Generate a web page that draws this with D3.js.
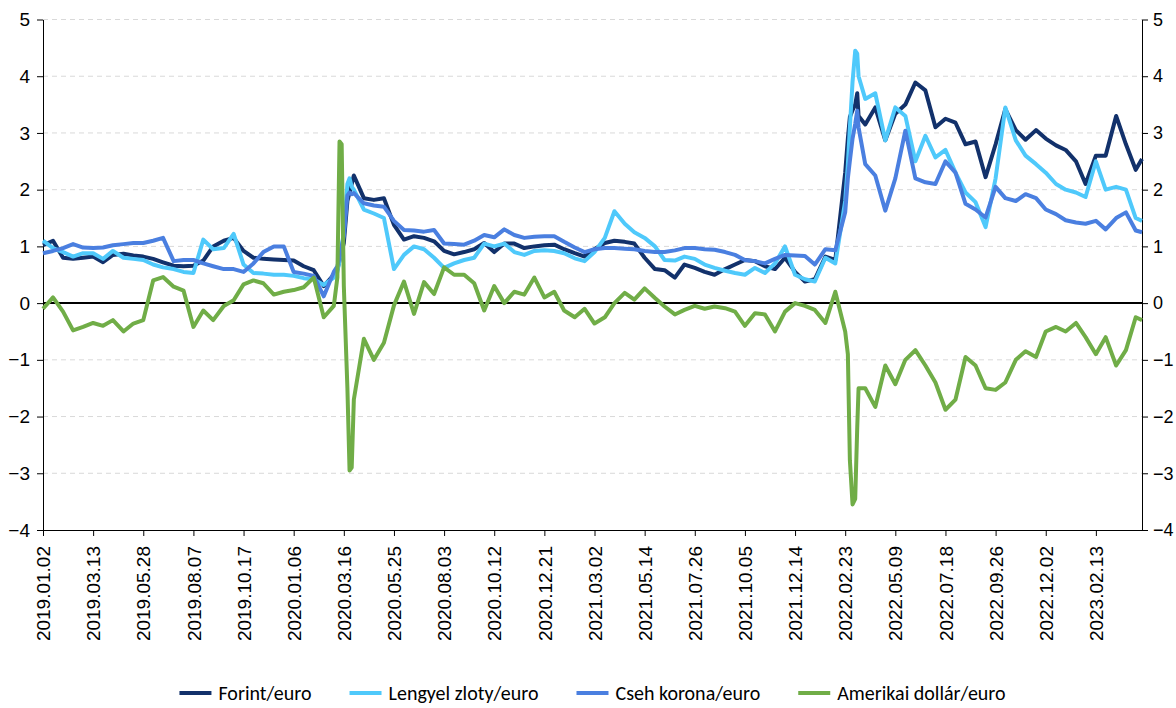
<!DOCTYPE html>
<html>
<head>
<meta charset="utf-8">
<script src="https://cdn.jsdelivr.net/npm/d3@7"></script>
<style>
  body { margin: 0; background: #fff; }
  svg { display: block; font-family: Carlito, Calibri, Lato, sans-serif; }
</style>
</head>
<body>
<div id="chart"></div>
<script>
// kategóriák: kereskedési napok mintái
const dates = [
  '2019-01-02','2019-01-16','2019-01-30','2019-02-13','2019-02-27','2019-03-13','2019-03-28','2019-04-12','2019-04-28','2019-05-13',
  '2019-05-28','2019-06-11','2019-06-25','2019-07-10','2019-07-24','2019-08-07','2019-08-21','2019-09-04','2019-09-19','2019-10-03',
  '2019-10-17','2019-11-02','2019-11-18','2019-12-05','2019-12-21','2020-01-06','2020-01-20','2020-02-03','2020-02-17','2020-03-02',
  '2020-03-07','2020-03-10','2020-03-13','2020-03-16','2020-03-21','2020-03-24','2020-03-27','2020-03-30','2020-04-13','2020-04-27',
  '2020-05-11','2020-05-25','2020-06-08','2020-06-22','2020-07-06','2020-07-20','2020-08-03','2020-08-17','2020-08-31','2020-09-14',
  '2020-09-28','2020-10-12','2020-10-26','2020-11-09','2020-11-23','2020-12-07','2020-12-21','2021-01-04','2021-01-18','2021-02-02',
  '2021-02-16','2021-03-02','2021-03-17','2021-03-31','2021-04-15','2021-04-29','2021-05-14','2021-05-29','2021-06-12','2021-06-27',
  '2021-07-11','2021-07-26','2021-08-09','2021-08-23','2021-09-07','2021-09-21','2021-10-05','2021-10-19','2021-11-02','2021-11-16',
  '2021-11-30','2021-12-14','2021-12-28','2022-01-11','2022-01-26','2022-02-09','2022-02-23','2022-02-27','2022-03-02','2022-03-06',
  '2022-03-10','2022-03-13','2022-03-15','2022-03-25','2022-04-09','2022-04-24','2022-05-09','2022-05-23','2022-06-06','2022-06-20',
  '2022-07-04','2022-07-18','2022-08-01','2022-08-15','2022-08-29','2022-09-12','2022-09-26','2022-10-09','2022-10-23','2022-11-05',
  '2022-11-19','2022-12-02','2022-12-17','2022-12-31','2023-01-15','2023-01-29','2023-02-13','2023-02-27','2023-03-14','2023-03-28',
  '2023-04-11','2023-04-20'
];

const forint = [
  1.02,1.10,0.80,0.78,0.80,0.82,0.72,0.85,0.87,0.84,
  0.82,0.78,0.72,0.66,0.65,0.66,0.75,1.00,1.10,1.15,
  0.92,0.80,0.78,0.77,0.76,0.75,0.65,0.58,0.30,0.50,
  0.59,0.75,0.90,1.06,1.80,1.95,2.10,2.25,1.85,1.82,
  1.85,1.38,1.12,1.18,1.15,1.09,0.92,0.86,0.90,0.95,
  1.06,0.90,1.05,1.05,0.97,1.00,1.02,1.03,0.95,0.88,
  0.82,0.95,1.06,1.10,1.08,1.05,0.80,0.60,0.58,0.45,
  0.68,0.62,0.55,0.50,0.60,0.68,0.76,0.74,0.65,0.60,
  0.80,0.55,0.38,0.42,0.82,0.76,2.30,2.90,3.28,3.40,
  3.50,3.70,3.30,3.15,3.45,2.87,3.34,3.50,3.89,3.75,
  3.10,3.25,3.18,2.80,2.85,2.22,2.80,3.42,3.05,2.88,
  3.05,2.90,2.78,2.70,2.50,2.10,2.60,2.60,3.30,2.80,
  2.35,2.54
];

const zloty = [
  1.10,0.97,0.90,0.82,0.88,0.88,0.78,0.92,0.80,0.78,
  0.76,0.68,0.63,0.60,0.55,0.53,1.12,0.95,0.97,1.22,
  0.68,0.53,0.52,0.50,0.50,0.48,0.44,0.42,0.32,0.45,
  0.55,0.75,1.00,1.24,2.10,2.20,2.05,2.00,1.65,1.58,
  1.50,0.60,0.85,1.00,0.95,0.80,0.62,0.70,0.76,0.80,
  1.05,1.00,1.05,0.90,0.85,0.92,0.93,0.92,0.88,0.79,
  0.74,0.90,1.15,1.62,1.40,1.25,1.15,1.00,0.76,0.75,
  0.82,0.78,0.68,0.62,0.57,0.53,0.50,0.62,0.53,0.70,
  1.00,0.50,0.42,0.38,0.80,0.70,1.80,2.45,3.10,3.90,
  4.45,4.40,4.00,3.60,3.70,2.87,3.45,3.30,2.50,2.95,
  2.57,2.70,2.30,1.95,1.78,1.34,2.20,3.45,2.87,2.60,
  2.45,2.30,2.10,2.00,1.95,1.87,2.50,2.00,2.05,2.00,
  1.50,1.45
];

const korona = [
  0.88,0.92,0.97,1.04,0.98,0.97,0.98,1.02,1.04,1.06,
  1.06,1.10,1.15,0.74,0.76,0.76,0.70,0.65,0.60,0.60,
  0.55,0.70,0.90,1.00,1.00,0.55,0.52,0.48,0.12,0.55,
  0.65,0.80,1.00,1.18,1.90,1.95,1.92,1.94,1.76,1.72,
  1.70,1.45,1.29,1.28,1.26,1.29,1.05,1.04,1.03,1.10,
  1.20,1.16,1.30,1.20,1.15,1.17,1.18,1.18,1.08,0.98,
  0.90,0.95,0.97,0.97,0.96,0.95,0.92,0.90,0.90,0.93,
  0.97,0.97,0.95,0.94,0.90,0.85,0.76,0.74,0.70,0.78,
  0.85,0.84,0.83,0.68,0.95,0.93,1.60,2.20,2.51,2.90,
  3.16,3.39,3.10,2.45,2.25,1.63,2.20,3.04,2.20,2.13,
  2.10,2.50,2.30,1.75,1.65,1.51,2.05,1.85,1.80,1.92,
  1.85,1.65,1.57,1.46,1.42,1.40,1.45,1.30,1.50,1.60,
  1.28,1.25
];

const dollar = [
  -0.10,0.10,-0.15,-0.48,-0.42,-0.35,-0.40,-0.30,-0.50,-0.36,
  -0.30,0.40,0.46,0.29,0.22,-0.42,-0.13,-0.30,-0.05,0.05,
  0.33,0.40,0.35,0.15,0.20,0.23,0.28,0.45,-0.25,-0.05,
  0.45,2.85,2.80,0.30,-1.50,-2.95,-2.90,-1.70,-0.63,-1.00,
  -0.70,-0.04,0.38,-0.19,0.37,0.16,0.63,0.50,0.50,0.35,
  -0.13,0.30,0.00,0.20,0.15,0.45,0.10,0.20,-0.13,-0.25,
  -0.10,-0.36,-0.25,0.00,0.18,0.06,0.26,0.09,-0.06,-0.20,
  -0.12,-0.05,-0.10,-0.06,-0.09,-0.15,-0.40,-0.18,-0.20,-0.50,
  -0.15,0.00,-0.05,-0.12,-0.35,0.20,-0.50,-0.90,-2.77,-3.55,
  -3.45,-2.20,-1.50,-1.50,-1.83,-1.10,-1.43,-1.00,-0.83,-1.10,
  -1.40,-1.88,-1.70,-0.95,-1.10,-1.50,-1.53,-1.40,-1.00,-0.85,
  -0.95,-0.50,-0.42,-0.50,-0.35,-0.60,-0.90,-0.60,-1.10,-0.83,
  -0.25,-0.30
];

// tengelyfeliratok (50 kereskedési naponként)
const tickLabels = [
  '2019.01.02','2019.03.13','2019.05.28','2019.08.07','2019.10.17','2020.01.06','2020.03.16','2020.05.25',
  '2020.08.03','2020.10.12','2020.12.21','2021.03.02','2021.05.14','2021.07.26','2021.10.05','2021.12.14',
  '2022.02.23','2022.05.09','2022.07.18','2022.09.26','2022.12.02','2023.02.13'
];
const lastDay = '2023.04.20';
const yTicks = [-4, -3, -2, -1, 0, 1, 2, 3, 4, 5];

const seriesNames = ['Forint/euro', 'Lengyel zloty/euro', 'Cseh korona/euro', 'Amerikai dollár/euro'];
const seriesColors = ['#12316b', '#4fc9fb', '#4a7fe0', '#70ad47'];
const seriesValues = [forint, zloty, korona, dollar];

// méretek
const W = 1176, H = 708;
const plot = { left: 43, right: 1142, top: 19.5, bottom: 530 };
const DAYS = 1096; // kereskedési napok száma

const svg = d3.select('#chart').append('svg').attr('width', W).attr('height', H);
svg.append('rect').attr('width', W).attr('height', H).attr('fill', '#fff');

const parseLabel = d3.timeParse('%Y.%m.%d');
const parseDate = d3.timeParse('%Y-%m-%d');
const fmt = d3.timeFormat('%Y.%m.%d');

// kategóriatengely: a feliratok 50 naponként, szakaszonként lineáris idő-skála
const dayScale = d3.scaleLinear().domain([0, DAYS]).range([plot.left, plot.right]);
const tickDates = tickLabels.map(parseLabel);
const xScale = d3.scaleTime()
    .domain(tickDates.concat([parseLabel(lastDay)]))
    .range(tickDates.map((d, i) => dayScale(i * 50)).concat([dayScale(DAYS)]));

const yScale = d3.scaleLinear().domain([-4, 5]).range([plot.bottom, plot.top]);

// rácsvonalak
svg.append('g').selectAll('line')
    .data(yTicks.filter(d => d !== 0 && d !== -4))
    .enter().append('line')
    .attr('x1', plot.left).attr('x2', plot.right)
    .attr('y1', d => yScale(d)).attr('y2', d => yScale(d))
    .attr('stroke', '#d9d9d9').attr('stroke-width', 1).attr('stroke-dasharray', '5,4');

// tengelyek
const yLeft = d3.axisLeft(yScale).tickValues(yTicks).tickSize(6).tickSizeOuter(0).tickPadding(7);
const yRight = d3.axisRight(yScale).tickValues(yTicks).tickSize(6).tickSizeOuter(0).tickPadding(5);

svg.append('g').attr('transform', 'translate(' + plot.left + ',0)').call(yLeft)
    .call(g => g.selectAll('text').style('font-size', '19px').attr('fill', '#000'));
svg.append('g').attr('transform', 'translate(' + plot.right + ',0)').call(yRight)
    .call(g => g.selectAll('text').style('font-size', '18px').attr('fill', '#000'));

const xAxis = d3.axisBottom(xScale).tickValues(tickDates).tickFormat(fmt).tickSize(6).tickSizeOuter(0);
svg.append('g').attr('transform', 'translate(0,' + plot.bottom + ')').call(xAxis)
    .call(g => g.selectAll('text')
        .style('font-size', '19px').attr('fill', '#000')
        .style('text-anchor', 'end')
        .attr('transform', 'rotate(-90)')
        .attr('x', -16).attr('y', 0).attr('dy', '0.35em'));

svg.selectAll('.domain, .tick line').attr('stroke', '#000');

// nulla-vonal
svg.append('line')
    .attr('x1', plot.left).attr('x2', plot.right)
    .attr('y1', yScale(0)).attr('y2', yScale(0))
    .attr('stroke', '#000').attr('stroke-width', 2);

// idősorok
const xDates = dates.map(parseDate);
const line = d3.line()
    .x((d, i) => xScale(xDates[i]))
    .y(d => yScale(d));

svg.append('g').selectAll('path')
    .data(seriesValues)
    .enter().append('path')
    .attr('d', line)
    .attr('fill', 'none')
    .attr('stroke', (d, i) => seriesColors[i])
    .attr('stroke-width', 4)
    .attr('stroke-linejoin', 'round');

// jelmagyarázat
const legend = svg.append('g');
let lx = 0;
seriesNames.forEach(function (name, i) {
    const item = legend.append('g').attr('transform', 'translate(' + lx + ',0)');
    item.append('line').attr('x1', 0).attr('x2', 32).attr('y1', 0).attr('y2', 0)
        .attr('stroke', seriesColors[i]).attr('stroke-width', 4);
    const t = item.append('text').attr('x', 39).attr('dy', '0.35em')
        .style('font-size', '20px').attr('fill', '#000').text(name);
    lx += 39 + t.node().getComputedTextLength() + 38;
});
const legendWidth = lx - 38;
legend.attr('transform', 'translate(' + ((plot.left + plot.right) / 2 - legendWidth / 2) + ',693)');
</script>
</body>
</html>
